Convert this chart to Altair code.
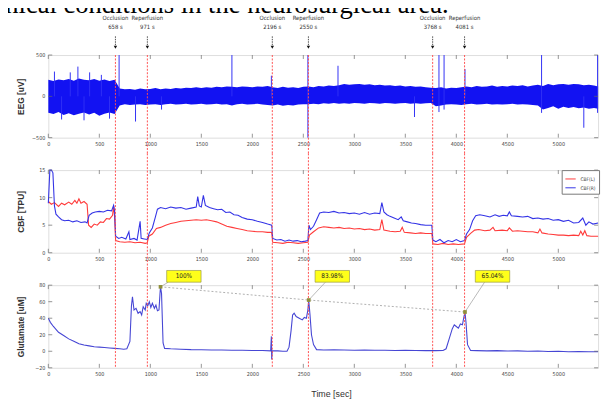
import altair as alt
import pandas as pd

# ---------------- data ----------------
X_MAX = 5390
x_ticks = [0, 500, 1000, 1500, 2000, 2500, 3000, 3500, 4000, 4500, 5000]
eeg_y_ticks = [-500, 0, 500]
cbf_y_ticks = [0, 5, 10, 15]
glu_y_ticks = [-20, 0, 20, 40, 60, 80]

caption_tail = "clinical conditions in the neurosurgical area."

event_t = [658, 971, 2196, 2550, 3768, 4081]
event_name = ["Occlusion", "Reperfusion", "Occlusion", "Reperfusion", "Occlusion", "Reperfusion"]
event_sec = ["658 s", "971 s", "2196 s", "2550 s", "3768 s", "4081 s"]

# EEG envelope (upper / lower) sampled every 50 s
eeg_t = list(range(0, 5400, 50)) + [5390]
eeg_hi = ([200, 185, 205, 195, 210, 190, 215, 200, 195, 210, 190, 205, 185, 200]
          + [95, 85, 90, 80, 95, 85, 90, 100, 85, 95, 90, 100, 95, 105, 100, 110, 100, 110, 105, 115,
             110, 120, 115, 110, 120, 115, 110, 120, 115, 125]
          + [110, 100, 115, 105, 110, 100, 115]
          + [120, 110, 125, 120, 130, 125, 135, 150, 140, 145, 150, 140, 145, 135, 140, 130, 135, 125,
             130, 120, 125, 115, 120, 110, 105]
          + [100, 110, 95, 105, 100, 110]
          + [120, 110, 125, 115, 120, 130, 115, 125, 120, 130, 125, 135, 120, 130, 140, 125, 150, 135,
             145, 150, 140, 150, 145, 135, 140, 130, 120])
eeg_lo = ([-200, -215, -190, -225, -205, -230, -210, -195, -220, -200, -235, -210, -195, -215]
          + [-110, -95, -105, -100, -95, -105, -100, -95, -105, -95, -90, -100, -95, -90, -100, -95,
             -90, -100, -95, -90, -100, -95, -110, -95, -90, -100, -95, -90, -100, -105]
          + [-110, -100, -115, -105, -110, -100, -95]
          + [-95, -90, -95, -85, -90, -80, -90, -85, -90, -80, -85, -90, -80, -85, -90, -80, -85, -90,
             -85, -80, -90, -85, -90, -85, -80]
          + [-120, -110, -100, -95, -100, -105]
          + [-95, -90, -100, -95, -90, -100, -95, -100, -95, -90, -100, -95, -100, -105, -110, -160,
             -140, -120, -150, -125, -140, -130, -145, -135, -150, -140, -150])

# EEG artefact spikes
spike_t = [60, 130, 215, 290, 350, 405, 520, 600,
           694, 855, 1110, 1800, 2187, 2545, 2840, 3590, 3830, 3880, 4085, 4836, 5250, 5385]
spike_lo = [0, -280, 0, 0, -290, 0, 0, -270,
            0, -305, -160, 0, 0, -500, 0, -250, -190, -160, 0, -200, -380, -200]
spike_hi = [300, 0, 290, 360, 0, 290, 260, 0,
            500, 0, 0, 500, 250, 500, 370, 0, 500, 500, 330, 500, 0, 500]

# CBF right (blue)
cbf_r_pts = [(0, 9.0), (15, 15.0), (30, 15.0), (45, 14.5), (60, 8.5), (75, 7.0), (100, 6.5), (130, 6.0),
             (160, 5.8), (200, 5.9), (240, 5.6), (280, 5.8), (320, 5.5), (360, 5.6), (380, 5.4),
             (400, 6.8), (430, 7.2), (460, 7.4), (500, 7.5), (540, 7.4), (580, 7.7), (620, 7.6),
             (640, 8.6), (650, 7.5), (660, 3.0), (690, 2.6), (720, 2.8), (760, 2.5), (790, 3.8),
             (800, 2.4), (840, 2.6), (870, 2.3), (900, 5.7), (910, 2.6), (940, 2.5), (970, 2.4),
             (990, 3.6), (1020, 4.5), (1050, 6.5), (1070, 7.9), (1100, 8.2), (1150, 8.0), (1200, 8.3),
             (1250, 8.1), (1300, 8.2), (1350, 7.9), (1400, 8.1), (1450, 8.3), (1465, 10.2), (1480, 8.5),
             (1500, 8.3), (1520, 10.4), (1540, 8.6), (1580, 8.2), (1620, 8.0), (1660, 7.8), (1700, 7.9),
             (1740, 7.3), (1780, 7.4), (1820, 6.9), (1860, 6.8), (1900, 6.4), (1950, 6.1), (2000, 6.0),
             (2050, 5.7), (2100, 5.5), (2150, 5.2), (2190, 5.0), (2200, 2.6), (2240, 2.3), (2280, 2.4),
             (2320, 2.1), (2360, 2.3), (2400, 2.1), (2440, 2.2), (2480, 2.0), (2520, 2.1), (2545, 2.2),
             (2555, 5.0), (2570, 4.2), (2600, 4.8), (2630, 6.0), (2660, 7.2), (2700, 7.4), (2750, 7.3),
             (2800, 7.5), (2850, 7.2), (2900, 7.3), (2950, 7.1), (3000, 7.2), (3050, 7.0), (3100, 7.3),
             (3150, 7.0), (3200, 7.2), (3250, 7.1), (3270, 9.1), (3290, 7.4), (3320, 6.9), (3350, 6.6),
             (3390, 6.3), (3430, 6.0), (3460, 6.5), (3480, 5.8), (3520, 5.6), (3560, 5.4), (3600, 5.3),
             (3650, 5.1), (3700, 5.0), (3760, 5.0), (3770, 2.3), (3800, 2.0), (3840, 2.4), (3880, 1.8),
             (3920, 2.2), (3960, 2.0), (4000, 2.4), (4040, 2.0), (4080, 2.2), (4100, 3.4), (4130, 4.2),
             (4160, 5.8), (4190, 6.7), (4230, 6.9), (4280, 6.7), (4330, 6.5), (4380, 6.9), (4420, 6.6),
             (4460, 6.8), (4500, 6.7), (4520, 7.4), (4540, 6.7), (4600, 6.6), (4650, 6.5), (4700, 6.6),
             (4750, 6.2), (4800, 6.3), (4850, 6.1), (4900, 6.2), (4950, 5.9), (5000, 6.0), (5050, 5.7),
             (5100, 5.9), (5150, 5.4), (5200, 5.5), (5240, 6.3), (5270, 5.0), (5300, 5.6), (5340, 5.2),
             (5390, 5.4)]

# CBF left (red)
cbf_l_pts = [(0, 9.3), (30, 8.8), (60, 9.1), (100, 8.4), (130, 9.0), (160, 8.7), (200, 9.2), (230, 8.8),
             (260, 9.5), (280, 9.0), (300, 9.8), (320, 9.0), (350, 9.3), (380, 8.8), (395, 5.0),
             (420, 4.6), (450, 5.2), (480, 5.0), (510, 5.6), (540, 5.5), (570, 6.2), (600, 6.1),
             (630, 6.8), (640, 8.5), (650, 6.5), (660, 2.2), (700, 2.0), (750, 1.9), (800, 2.0),
             (850, 1.8), (900, 1.9), (950, 1.7), (970, 1.8), (985, 3.0), (1020, 3.4), (1060, 4.4),
             (1100, 4.6), (1150, 5.0), (1200, 5.3), (1250, 5.5), (1300, 5.7), (1350, 5.8), (1400, 5.9),
             (1450, 6.0), (1500, 5.9), (1550, 6.0), (1600, 5.8), (1650, 5.6), (1700, 5.2), (1750, 4.8),
             (1800, 4.6), (1850, 4.4), (1900, 4.2), (1950, 4.0), (2000, 3.9), (2050, 3.8), (2100, 3.8),
             (2150, 3.7), (2190, 3.7), (2200, 1.9), (2250, 1.8), (2300, 1.7), (2350, 1.9), (2400, 1.8),
             (2450, 1.7), (2500, 1.8), (2545, 1.9), (2560, 3.2), (2600, 3.8), (2650, 4.5), (2700, 4.7),
             (2750, 4.6), (2800, 4.5), (2850, 4.6), (2900, 4.4), (2950, 4.5), (3000, 4.3), (3050, 4.4),
             (3100, 4.2), (3150, 4.3), (3200, 4.1), (3250, 4.2), (3270, 6.0), (3290, 4.1), (3350, 3.9),
             (3400, 3.8), (3450, 3.9), (3470, 4.6), (3490, 3.7), (3550, 3.6), (3600, 3.5), (3650, 3.6),
             (3700, 3.5), (3760, 3.5), (3770, 1.6), (3820, 1.5), (3870, 1.7), (3920, 1.5), (3970, 1.6),
             (4020, 1.5), (4080, 1.6), (4100, 2.8), (4140, 3.5), (4180, 4.1), (4220, 4.2), (4280, 4.0),
             (4330, 4.1), (4360, 4.6), (4380, 4.0), (4450, 4.1), (4500, 4.0), (4520, 4.5), (4550, 3.9),
             (4600, 4.0), (4650, 3.9), (4700, 3.8), (4750, 3.8), (4800, 3.6), (4820, 4.3), (4840, 3.6),
             (4900, 3.4), (4950, 3.3), (5000, 3.2), (5050, 3.2), (5100, 3.1), (5150, 3.2), (5200, 3.1),
             (5220, 3.9), (5240, 3.2), (5260, 4.0), (5280, 3.1), (5320, 3.0), (5390, 3.0)]

# Glutamate
glu_pts = [(0, 40), (20, 35), (50, 30), (100, 23), (150, 19), (200, 15), (250, 12), (300, 9), (350, 7.5),
           (400, 6.5), (450, 5.5), (500, 5), (550, 4.5), (600, 4), (650, 3.5), (700, 3), (740, 2.5),
           (770, 3), (800, 12), (815, 55), (825, 66), (840, 50), (860, 52), (880, 46), (900, 48),
           (915, 44), (930, 54), (950, 50), (960, 58), (975, 55), (990, 60), (1005, 53), (1020, 58),
           (1040, 52), (1055, 56), (1070, 49), (1085, 50), (1095, 70), (1100, 78), (1110, 70),
           (1125, 10), (1140, 3.5), (1200, 3), (1300, 2.5), (1400, 2), (1500, 1.8), (1600, 1.5),
           (1700, 1.5), (1800, 1.2), (1900, 1.2), (2000, 1), (2100, 1), (2180, 0.5), (2187, 18),
           (2190, -10), (2195, 0.5), (2250, 0.5), (2300, 0), (2340, 0), (2360, 5), (2380, 25),
           (2395, 44), (2410, 46), (2430, 42), (2460, 40), (2490, 38), (2510, 41), (2530, 40),
           (2545, 50), (2553, 62), (2565, 45), (2580, 20), (2600, 8), (2630, 2), (2700, 1.5),
           (2800, 1.8), (2900, 1.5), (3000, 1.2), (3100, 1.5), (3200, 1.2), (3300, 1.3), (3400, 1.0),
           (3500, 1.2), (3600, 1.0), (3700, 0.8), (3800, 0.8), (3870, 1), (3900, 3), (3930, 15),
           (3960, 27), (3980, 32), (4000, 30), (4020, 28), (4040, 33), (4060, 32), (4075, 42),
           (4085, 47.5), (4095, 35), (4110, 8), (4140, 1), (4200, 0.8), (4300, 0.5), (4400, 0.8),
           (4500, 0.3), (4600, 0.5), (4700, 0), (4800, 0.3), (4900, -0.3), (5000, 0), (5100, -0.5),
           (5200, -0.3), (5300, -0.5), (5390, -0.5)]

peak_t = [1100, 2553, 4085]
peak_v = [78, 62, 47.5]
peak_label = ["100%", "83.98%", "65.04%"]
label_anchor_t = [1329, 2784, 4355]
leader_end_t = [1175, 2716, 4277]

# ---------------- layout / style ----------------
W = 559
H = 84
FONT = "Liberation Sans Narrow, DejaVu Sans Condensed, Liberation Sans, sans-serif"
RED_RULE = "#ff5050"

xs = alt.Scale(domain=[0, X_MAX], nice=False, zero=False)


def x_axis(title=None, **kw):
    return alt.Axis(values=x_ticks, format="d", title=title, domain=False, ticks=False, grid=False,
                    labelFontSize=5.5, labelColor="#444", labelPadding=4, labelFlush=False,
                    labelOverlap=False, labelFont=FONT, **kw)


def y_axis(vals, title):
    return alt.Axis(values=vals, title=title, domain=False, ticks=False, grid=False, labels=False,
                    titleX=-28, titleY=H / 2, titleBaseline="middle", titleAngle=270,
                    titleFontSize=8.5, titleFontWeight="bold", titleColor="#333",
                    titleFont="Liberation Sans")


def X(field="t:Q"):
    return alt.X(field, scale=xs)


def y_labels(vals, ys):
    return alt.Chart(pd.DataFrame({"v": vals})).mark_text(
        align="right", baseline="middle", fontSize=5.5, color="#444", font=FONT
    ).encode(y=alt.Y("v:Q", scale=ys), x=alt.value(-3), text=alt.Text("v:Q", format="d"))


def inner_ticks(yvals, ys):
    xt = pd.DataFrame({"t": x_ticks})
    yt = pd.DataFrame({"v": yvals})
    bx = alt.Chart(xt).mark_rule(color="#666", strokeWidth=0.7)
    by = alt.Chart(yt).mark_rule(color="#666", strokeWidth=0.7)
    yy = alt.Y("v:Q", scale=ys)
    return [
        bx.encode(x=X(), y=alt.value(H), y2=alt.value(H - 4)),
        bx.encode(x=X(), y=alt.value(0), y2=alt.value(4)),
        by.encode(y=yy, x=alt.value(0), x2=alt.value(4)),
        by.encode(y=yy, x=alt.value(W - 4), x2=alt.value(W)),
        y_labels(yvals, ys),
    ]


ev_df = pd.DataFrame({"t": event_t, "name": event_name, "sec": event_sec})


def red_rules(top, bottom):
    return alt.Chart(ev_df).mark_rule(color=RED_RULE, strokeWidth=1, strokeDash=[2, 1.5]).encode(
        x=X(), y=alt.value(top), y2=alt.value(bottom))


# ---------------- panel 1 : EEG ----------------
ys1 = alt.Scale(domain=[-500, 500], nice=False, zero=False)
eeg_df = pd.DataFrame({"t": eeg_t, "hi": eeg_hi, "lo": eeg_lo})
spk_df = pd.DataFrame({"t": spike_t, "lo": spike_lo, "hi": spike_hi})

band = alt.Chart(eeg_df).mark_area(color="#1212f2", opacity=1, line=False).encode(
    x=alt.X("t:Q", scale=xs, axis=x_axis()),
    y=alt.Y("hi:Q", scale=ys1, axis=y_axis(eeg_y_ticks, "EEG [uV]")),
    y2="lo:Q")
spikes = alt.Chart(spk_df).mark_rule(color="#3030f5", strokeWidth=1).encode(
    x=X(), y=alt.Y("lo:Q", scale=ys1), y2="hi:Q")

names = alt.Chart(ev_df).mark_text(fontSize=6, color="#333", baseline="middle", font=FONT).encode(
    x=X(), y=alt.value(-38), text="name:N")
secs = alt.Chart(ev_df).mark_text(fontSize=6, color="#333", baseline="middle", font=FONT).encode(
    x=X(), y=alt.value(-28), text="sec:N")
arrows = alt.Chart(ev_df).mark_rule(color="#222", strokeWidth=0.8, strokeDash=[1.5, 1]).encode(
    x=X(), y=alt.value(-19), y2=alt.value(-9))
heads = alt.Chart(ev_df).mark_point(shape="triangle-down", filled=True, color="#111", size=12,
                                    opacity=1).encode(x=X(), y=alt.value(-8))
caption = alt.Chart(pd.DataFrame({"c": [caption_tail]})).mark_text(
    fontSize=27, font="Liberation Serif", color="#000", align="right", baseline="alphabetic"
).encode(x=alt.value(407), y=alt.value(-43), text="c:N")

p1 = alt.layer(band, spikes, *inner_ticks(eeg_y_ticks, ys1), red_rules(0, H + 16),
               names, secs, arrows, heads, caption).properties(width=W, height=H)

# ---------------- panel 2 : CBF ----------------
ys2 = alt.Scale(domain=[0, 15], nice=False, zero=False)
cbf_df = pd.concat([
    pd.DataFrame({"t": [p[0] for p in cbf_l_pts], "v": [p[1] for p in cbf_l_pts], "s": "CBF(L)"}),
    pd.DataFrame({"t": [p[0] for p in cbf_r_pts], "v": [p[1] for p in cbf_r_pts], "s": "CBF(R)"}),
])
cbf_lines = alt.Chart(cbf_df).mark_line(strokeWidth=1.1).encode(
    x=alt.X("t:Q", scale=xs, axis=x_axis()),
    y=alt.Y("v:Q", scale=ys2, axis=y_axis(cbf_y_ticks, "CBF [TPU]")),
    color=alt.Color("s:N", scale=alt.Scale(domain=["CBF(L)", "CBF(R)"], range=["#ff3a3a", "#3434e6"]),
                    legend=alt.Legend(title=None, orient="none", legendX=W - 37, legendY=0,
                                      direction="vertical", symbolType="stroke", symbolSize=110,
                                      symbolStrokeWidth=1, labelFontSize=5, labelColor="#444",
                                      labelFont=FONT, padding=3, rowPadding=0, strokeColor="#777",
                                      fillColor="white", labelOffset=4)),
    detail="s:N")

p2 = alt.layer(cbf_lines, *inner_ticks(cbf_y_ticks, ys2), red_rules(-17, H + 16)).properties(
    width=W, height=H)

# ---------------- panel 3 : Glutamate ----------------
ys3 = alt.Scale(domain=[-20, 80], nice=False, zero=False)
glu_df = pd.DataFrame({"t": [p[0] for p in glu_pts], "v": [p[1] for p in glu_pts]})
pk_df = pd.DataFrame({"t": peak_t, "v": peak_v, "lab": peak_label, "lt": label_anchor_t,
                      "et": leader_end_t})

glu_line = alt.Chart(glu_df).mark_line(color="#4646d4", strokeWidth=1.1).encode(
    x=alt.X("t:Q", scale=xs, axis=x_axis("Time [sec]", titleX=W / 2 + 8, titleY=26,
                                          titleBaseline="middle", titleFontSize=9,
                                          titleFontWeight="normal", titleColor="#333",
                                          titleFont="Liberation Sans")),
    y=alt.Y("v:Q", scale=ys3, axis=y_axis(glu_y_ticks, "Glutamate [uM]")))
trend = alt.Chart(pk_df).mark_line(color="#9a9a9a", strokeWidth=0.8, strokeDash=[2, 2]).encode(
    x=X(), y=alt.Y("v:Q", scale=ys3))
leaders = alt.Chart(pk_df).mark_rule(color="#9a9a9a", strokeWidth=0.7).encode(
    x=X(), x2="et:Q", y=alt.Y("v:Q", scale=ys3), y2=alt.value(-3))
markers = alt.Chart(pk_df).mark_square(color="#8f8f3a", size=14, opacity=1).encode(
    x=X(), y=alt.Y("v:Q", scale=ys3))
boxes = alt.Chart(pk_df).mark_point(shape="M-1,-0.34H1V0.34H-1Z", size=1225, filled=True,
                                    fill="#ffff1a", stroke="#8a8a40", strokeWidth=0.6,
                                    opacity=1).encode(x=X("lt:Q"), y=alt.value(-9))
box_txt = alt.Chart(pk_df).mark_text(fontSize=6.5, color="#222", baseline="middle", font=FONT).encode(
    x=X("lt:Q"), y=alt.value(-9), text="lab:N")

p3 = alt.layer(glu_line, *inner_ticks(glu_y_ticks, ys3), red_rules(-17, H), trend, leaders,
               markers, boxes, box_txt).properties(width=W, height=H)

chart = alt.vconcat(p1, p2, p3, spacing=33, bounds="flush").resolve_scale(
    color="independent"
).properties(
    padding={"left": -31, "top": -21.5, "right": 2, "bottom": 2}
).configure_view(stroke="#333", strokeWidth=0.9).configure(font="Liberation Sans")

chart.save("out.html", embed_options={"renderer": "svg", "actions": False})
